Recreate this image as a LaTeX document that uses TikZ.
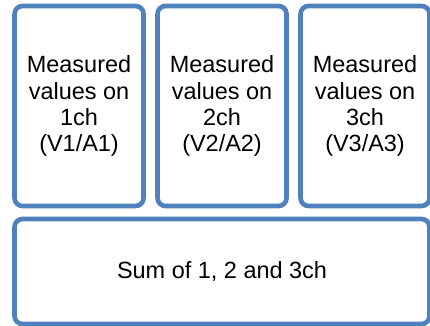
\documentclass[tikz,border=0pt]{standalone}
\usepackage{fontspec}
\setmainfont{Liberation Sans}
\usetikzlibrary{positioning}

\definecolor{boxblue}{HTML}{4F81BD}

\begin{document}
\begin{tikzpicture}[
    node distance=10.5pt,
    block/.style={
        rectangle,
        draw=boxblue,
        line width=3.5pt,
        rounded corners=6pt,
        align=center,
        inner sep=0pt,
        outer sep=0pt,
        minimum width=96.75pt,
        minimum height=150pt,
        font=\fontsize{17.6pt}{19.6pt}\selectfont
    },
    sumblock/.style={
        block,
        minimum width=311.25pt,
        minimum height=78.75pt
    }
]
    \useasboundingbox (0,0) rectangle (322.5pt,-244.5pt);

    \node[block, anchor=north west] (ch1) at (10.9pt,-4.5pt) {Measured\\values on\\1ch\\(V1/A1)};
    \node[block, right=of ch1] (ch2) {Measured\\values on\\2ch\\(V2/A2)};
    \node[block, right=of ch2] (ch3) {Measured\\values on\\3ch\\(V3/A3)};
    \node[sumblock, below right=9.75pt and 0pt of ch1.south west] (sum) {Sum of 1, 2 and 3ch};
\end{tikzpicture}
\end{document}
